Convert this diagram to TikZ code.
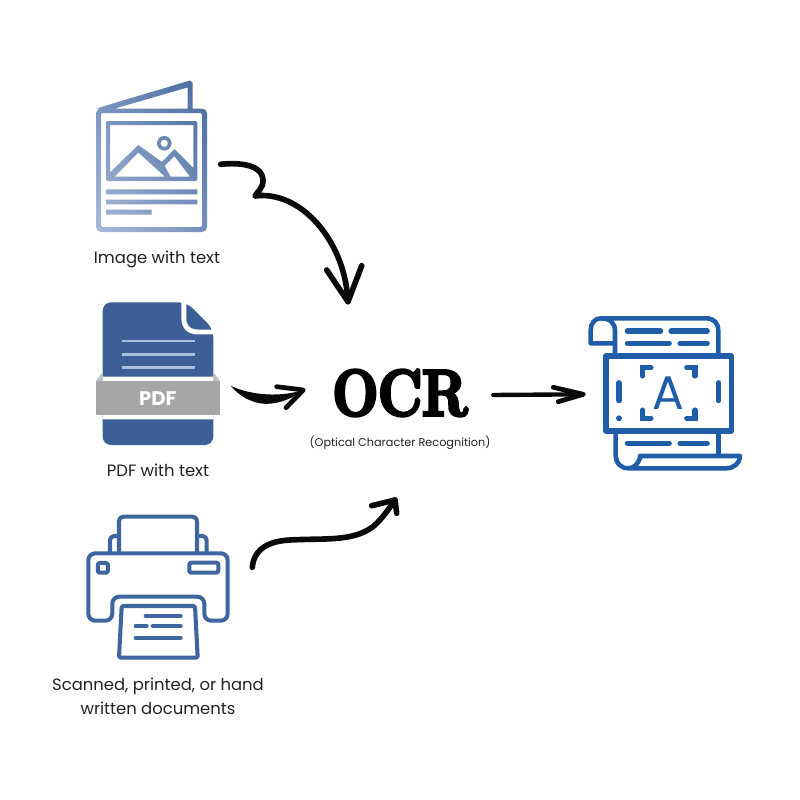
\documentclass[tikz,border=0pt]{standalone}
\usetikzlibrary{shadings}
\usepackage{fontspec}
\setmainfont{Poppins}
\newfontfamily\ocrfont[BoldFeatures={FakeBold=5,FakeStretch=0.83}]{Latin Modern Roman}
\definecolor{foldlight}{HTML}{A9BAD8}
\definecolor{folddark}{HTML}{466A9E}
\definecolor{foldmid}{HTML}{7690BB}
\definecolor{printblue}{HTML}{3F659F}
\definecolor{pdfblue}{HTML}{3B5F96}
\definecolor{pdfline}{HTML}{A9BFE0}
\definecolor{pdfgray}{HTML}{A6A6A6}
\definecolor{scrollblue}{HTML}{1F5DA8}
\definecolor{inkblack}{HTML}{0A0A0A}
\definecolor{labelgray}{HTML}{222222}
\tikzset{
  caption/.style={font=\fontsize{4.67}{6.85}\selectfont,text=labelgray,align=center,inner sep=0pt},
  printline/.style={draw=printblue,line width=1.15pt,line join=round,rounded corners=1.2pt},
  printtext/.style={draw=printblue,line width=1.15pt,line cap=round},
  scrollline/.style={draw=scrollblue,line width=1.3pt,line join=round},
  scrolltext/.style={draw=scrollblue,line width=1.45pt,line cap=round},
  ink/.style={draw=inkblack,line width=1.6pt,line cap=round,line join=round},
}
\begin{document}
\begin{tikzpicture}[x=0.01cm,y=-0.01cm]
    \useasboundingbox(0,0)rectangle(800,800);
    % folded leaflet
    \shade[even odd rule,lower left=foldlight,upper left=foldmid,lower right=foldmid,upper right=folddark]
      (96,108.5)--(190,80.5)--(192.5,82.5)--(192.5,108.5)--(187.5,108.5)--(187.5,87.5)--(115,108.5)--cycle
      [rounded corners=1.4pt](96,108.5)rectangle(207,232)
      [rounded corners=0.4pt](101,113)rectangle(202,227)
      (106,121)rectangle(197.3,181)
      [sharp corners](110,125)--(193.3,125)--(193.3,168)--(174.5,149)--(162,162)--(138.3,145)--(110,172.5)--cycle
      (138.3,152.5)--(114.7,176.7)--(165,176.7)--cycle
      (174.3,156)--(164.8,166)--(170.5,176.7)--(190,176.7)--cycle
      (164.3,143.3)circle(7.3)(164.3,143.3)circle(3.7)
      (106,189.3)rectangle(197.3,194.3)
      (106,199.7)rectangle(197.3,204.3)
      (106,209.7)rectangle(151.7,214.7);
    \node[caption](imglabel)at(157,259){Image with text};
    % pdf file
    \fill[pdfblue,rounded corners=2.4pt](102.7,302.3)--(186.7,302.3)--(213.3,329)--(213.3,445)--(102.7,445)--cycle;
    \draw[white,line width=1.4pt](183.8,298)--(183.8,318)..controls(183.8,327)and(189,332)..(198,332)--(217,332);
    \fill[white](102.7,376.7)rectangle(213.3,381)(102.7,415)rectangle(213.3,419.3);
    \fill[pdfgray](96,381)rectangle(220,415);
    \fill[pdfgray!70](96,381)--(102.7,372)--(102.7,381)--cycle(220,381)--(213.3,372)--(213.3,381)--cycle;
    \foreach \y in {341,354.3,367.3}
      \draw[pdfline,line width=0.75pt](121.7,\y)--(195,\y);
    \node[text=white,font=\fontsize{5.6}{6}\selectfont\bfseries,inner sep=0pt](pdftag)at(157.7,398.3){PDF};
    \node[caption](pdflabel)at(158,470.5){PDF with text};
    % printer
    \draw[printline](119,553.3)--(119,516.7)--(197,516.7)--(197,553.3);
    \draw[printline](110,553.3)--(110,536)--(119,536);
    \draw[printline](206.7,553.3)--(206.7,536)--(197,536);
    \draw[printline,rounded corners=2pt](88.3,553.3)--(227.7,553.3)--(227.7,620.7)--(204.3,620.7)--(204.3,596.7)--(112.3,596.7)--(112.3,620.7)--(88.3,620.7)--cycle;
    \draw[printline,rounded corners=0.4pt,fill=white](121.7,606)--(195,606)--(197.7,657.7)--(119,657.7)--cycle;
    \draw[printline,rounded corners=0.4pt](97.8,563)rectangle(107.8,572.7);
    \draw[printline,rounded corners=0.4pt](189.3,562.7)rectangle(218.3,572.7);
    \draw[printtext](145.7,616)--(180.7,616)(135.7,625.7)--(146.7,625.7)(152.7,625.7)--(180.7,625.7)(135.7,637.7)--(180.7,637.7);
    \node[caption](scanlabel)at(158,696.5){Scanned, printed, or hand\\written documents};
    % centre title
    \node[inner sep=0pt,font=\ocrfont\bfseries\fontsize{18.5}{20}\selectfont,text=black](ocr)at(400,393){OCR};
    \node[caption,font=\fontsize{3.2}{4}\selectfont](ocrlabel)at(400,442.5){(Optical Character Recognition)};
    % scroll
    \draw[scrollline](613.3,343.3)--(590.7,343.3)--(590.7,330)..controls(590.7,323)and(595,318.3)..(601,318.3)--(706,318.3)..controls(714,318.3)and(718.3,323)..(718.3,331)--(718.3,356);
    \draw[scrollline](601,318.3)..controls(610,318.3)and(615,323)..(615,331)--(615,356);
    \draw[scrollline](615.7,431)--(615.7,456)..controls(615.7,463)and(621,468.3)..(628.3,468.3)--(726,468.3)..controls(734,468.3)and(740,463)..(740,456)--(640,456)--(640,458)..controls(638,464)and(634,468.3)..(628.3,468.3);
    \draw[scrollline](718.3,431)--(718.3,456);
    \draw[scrollline,line width=1.45pt](606,356)rectangle(731.7,431);
    \draw[scrolltext](627.3,331)--(660.7,331)(671,331)--(707.3,331)(627.3,343.3)--(669.3,343.3)(680,343.3)--(707.3,343.3)(627.3,443.3)--(669.3,443.3)(680,443.3)--(707.3,443.3);
    \draw[scrolltext](642.7,376)--(642.7,367.7)--(651,367.7)(686.7,367.7)--(695,367.7)--(695,376)(642.7,410)--(642.7,418.3)--(651,418.3)(686.7,418.3)--(695,418.3)--(695,410);
    \draw[scrolltext](619,382.7)--(619,400.7)(718.7,382.7)--(718.7,400.7);
    \fill[scrollblue](619,418.3)circle(3);
    \node[inner sep=0pt,text=scrollblue,font=\fontsize{13.4}{14}\selectfont](glyph)at(668.5,393){A};
    % arrows
    \coordinate(imgout)at(220.7,164.3);
    \coordinate(imgin)at(348,301.7);
    \coordinate(pdfout)at(230.7,385.7);
    \coordinate(pdfin)at(303.3,390);
    \coordinate(scanout)at(252.3,567.3);
    \coordinate(scanin)at(395,500);
    \coordinate(ocrout)at(493.3,395);
    \coordinate(scrollin)at(583.3,394.3);
    \draw[ink](imgout)..controls(232,163)and(262,162)..(263,180)..controls(263.5,188)and(257,192)..(255,196)..controls(300,190)and(345,240)..(imgin);
    \draw[ink](326.7,270)--(imgin)--(361.7,265.7);
    \fill[inkblack](pdfout)..controls(245,393)and(275,399)..(pdfin)..controls(290,401)and(268,408)..(252,401)..controls(243,398)and(236,392)..(pdfout)--cycle;
    \draw[ink,line width=1.35pt](276.7,386.7)--(pdfin)--(286,407.7);
    \draw[ink](scanout)..controls(254,548)and(270,541)..(290,540)..controls(325,538)and(352,542)..(373,526.7)..controls(382,519)and(388,510)..(scanin);
    \draw[ink](371.7,505.7)--(scanin)--(396.7,513.3);
    \draw[ink,line width=1.25pt](ocrout)--(scrollin);
    \draw[ink,line width=1.35pt](553.3,387.3)--(scrollin)--(558.3,401.7);
\end{tikzpicture}
\end{document}
